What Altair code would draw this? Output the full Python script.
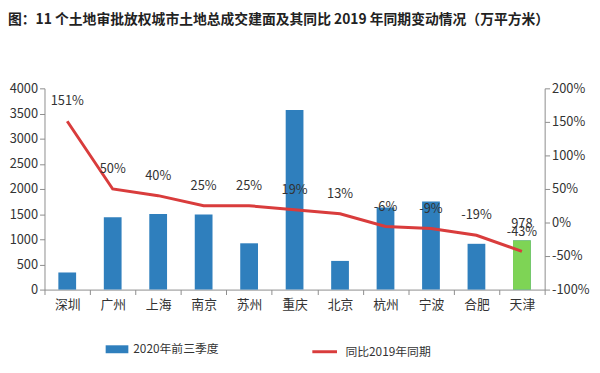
import altair as alt
import pandas as pd

cities = ["深圳", "广州", "上海", "南京", "苏州", "重庆", "北京", "杭州", "宁波", "合肥", "天津"]
area = [340, 1440, 1500, 1490, 920, 3570, 570, 1630, 1750, 910, 978]
yoy = [151, 50, 40, 25, 25, 19, 13, -6, -9, -19, -43]
bar_series = "2020年前三季度"
line_series = "同比2019年同期"
highlight_city = "天津"
left_ticks = [0, 500, 1000, 1500, 2000, 2500, 3000, 3500, 4000]
right_ticks = [-1.0, -0.5, 0.0, 0.5, 1.0, 1.5, 2.0]

df = pd.DataFrame({
    "city": cities,
    "area": area,
    "yoy": [v / 100 for v in yoy],
    "yoy_label": [f"{v}%" for v in yoy],
})
df["bar_series"] = bar_series
df["line_series"] = line_series

FONT = "Noto Sans CJK SC"
BLUE = "#2F7FBD"
GREEN = "#7ED455"
RED = "#D93C3C"
AXIS = "#8C8C8C"
TXT = "#333333"
W, H = 507, 204

x_axis = alt.Axis(title=None, labelAngle=0, tickBand="extent", tickSize=5,
                  labelFontSize=13, labelPadding=4, domainColor=AXIS, tickColor=AXIS,
                  labelColor=TXT, labelFont=FONT)
left_axis = alt.Axis(title=None, values=left_ticks, format="d", orient="left",
                     tickSize=5, labelFontSize=13, labelPadding=2, domainColor=AXIS,
                     tickColor=AXIS, labelColor=TXT, labelFont=FONT, grid=False)
right_axis = alt.Axis(title=None, values=right_ticks, orient="right",
                      labelExpr="round(datum.value*100) + '%'",
                      tickSize=5, labelFontSize=13, labelPadding=2, domainColor=AXIS,
                      tickColor=AXIS, labelColor=TXT, labelFont=FONT, grid=False)

x_enc = alt.X("city:N", sort=cities, scale=alt.Scale(paddingInner=0, paddingOuter=0), axis=x_axis)
y_left = alt.Y("area:Q", scale=alt.Scale(domain=[0, 4000], nice=False), axis=left_axis)
y_right = alt.Y("yoy:Q", scale=alt.Scale(domain=[-1, 2], nice=False), axis=right_axis)

base = alt.Chart(df)

bars = base.mark_bar(size=18).encode(
    x=x_enc,
    y=y_left,
    color=alt.Color("bar_series:N", scale=alt.Scale(domain=[bar_series], range=[BLUE]),
                    legend=alt.Legend(orient="none", legendX=62, legendY=253, title=None,
                                      symbolType="M-1,-0.35L1,-0.35L1,0.35L-1,0.35Z",
                                      symbolSize=529, symbolStrokeWidth=0, padding=0,
                                      labelFont=FONT, labelFontSize=12, labelColor=TXT,
                                      labelOffset=5)),
)

green = base.transform_filter(alt.datum.city == highlight_city).mark_bar(size=18, color=GREEN).encode(
    x=x_enc,
    y=y_left,
)

bar_label = base.transform_filter(alt.datum.city == highlight_city).mark_text(
    dy=-17, baseline="middle", font=FONT, fontSize=13, color=TXT
).encode(
    x=x_enc,
    y=y_left,
    text=alt.Text("area:Q", format="d"),
)

left = alt.layer(bars, green, bar_label)

line = base.mark_line(strokeWidth=3).encode(
    x=x_enc,
    y=y_right,
    stroke=alt.Stroke("line_series:N", scale=alt.Scale(domain=[line_series], range=[RED]),
                      legend=alt.Legend(orient="none", legendX=270, legendY=253, title=None,
                                        symbolType="stroke", symbolSize=625,
                                        symbolStrokeWidth=3, padding=0,
                                        labelFont=FONT, labelFontSize=12, labelColor=TXT,
                                        labelOffset=7)),
)

line_labels = base.mark_text(dy=-20, baseline="middle", font=FONT, fontSize=13, color=TXT).encode(
    x=x_enc,
    y=y_right,
    text="yoy_label:N",
)

right = alt.layer(line, line_labels)

chart = alt.layer(left, right).resolve_scale(
    y="independent", color="independent", stroke="independent"
).properties(
    width=W, height=H,
    title=alt.TitleParams(
        "图：11 个土地审批放权城市土地总成交建面及其同比 2019 年同期变动情况（万平方米）",
        anchor="start", frame="group", font=FONT, fontSize=14, fontWeight="bold",
        color="#222222", offset=56, dx=-37,
    ),
    autosize=alt.AutoSizeParams(type="none"),
    padding={"left": 37, "top": 79, "right": 48, "bottom": 74},
).configure_view(stroke=None)

chart.save("out.html", embed_options={"renderer": "svg", "actions": False})
